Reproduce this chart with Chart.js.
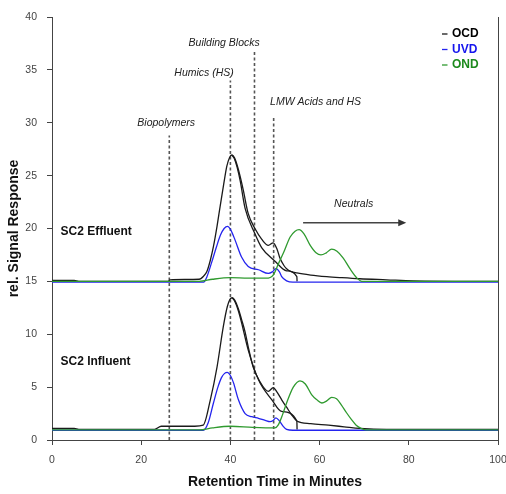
<!DOCTYPE html>
<html>
<head>
<meta charset="utf-8">
<script src="https://cdn.jsdelivr.net/npm/chart.js@4.4.1/dist/chart.umd.min.js"></script>
<style>
  html, body { margin: 0; padding: 0; background: #fff; }
  canvas { display: block; }
</style>
</head>
<body>
<canvas id="c" width="506" height="494"></canvas>
<script>
// ---- SC2 effluent (plotted with +15 offset) ----
const effOcdTime = [0, 5, 6, 26, 26.5, 33, 34, 34.7, 35.5, 36.2, 37, 37.7, 38.5, 39.2, 39.8, 40.3, 40.9, 41.5, 42.2, 42.9, 44, 45.5, 47, 48.5, 49.6, 50.5, 51.1, 52, 52.6, 53.5, 54.9, 58, 61.6, 65, 69, 75, 81, 100];
const effOcdSignal = [15.1, 15.1, 15.0, 15.0, 15.15, 15.2, 15.5, 15.9, 17.0, 18.3, 20.2, 22.1, 24.2, 25.9, 26.7, 26.95, 26.7, 26.0, 24.9, 23.6, 21.4, 20.0, 19.0, 18.4, 18.65, 18.0, 17.2, 16.5, 16.2, 15.95, 15.8, 15.6, 15.45, 15.35, 15.25, 15.15, 15.05, 15.0];

const effHumicTime = [40.3, 40.9, 41.5, 42.2, 43.3, 45.5, 47, 50, 52.6, 54.9, 54.95];
const effHumicSignal = [26.95, 26.6, 25.8, 24.5, 21.9, 19.5, 18.2, 16.9, 16.0, 15.45, 15.0];

const effUvdTime = [0, 34, 34.7, 35.8, 36.9, 37.8, 38.6, 39.35, 40.1, 41.05, 42.5, 44, 46.3, 48.5, 49.4, 50.2, 51, 51.5, 52.6, 54, 100];
const effUvdSignal = [14.92, 14.92, 15.4, 16.8, 18.3, 19.4, 20.0, 20.2, 19.85, 18.9, 17.3, 16.4, 16.1, 15.75, 15.9, 16.2, 15.9, 15.45, 15.05, 14.92, 14.92];

const effOndTime = [0, 33, 36, 40, 44, 48, 49.6, 50.8, 51.9, 53.4, 54.5, 55.4, 56.5, 57.9, 59.2, 60.3, 61.5, 62.7, 63.9, 65.3, 66.8, 68.3, 69.5, 100];
const effOndSignal = [15.0, 15.0, 15.2, 15.35, 15.3, 15.3, 15.6, 16.7, 17.7, 19.2, 19.75, 19.9, 19.5, 18.4, 17.7, 17.5, 17.7, 18.05, 17.85, 17.2, 16.2, 15.35, 15.0, 15.0];

// ---- SC2 influent ----
const infOcdTime = [0, 5, 6, 23, 24.5, 32, 33.9, 35.5, 37.0, 38.4, 39.3, 39.9, 40.4, 41, 41.8, 42.5, 43.3, 44, 45.1, 46.5, 48.5, 49.6, 50.5, 51.5, 52.6, 53.7, 54.9, 58, 62, 65.5, 69, 75, 85, 100];
const infOcdSignal = [1.1, 1.1, 1.0, 1.0, 1.3, 1.3, 1.4, 3.8, 6.9, 10.7, 12.6, 13.3, 13.45, 13.2, 12.4, 11.4, 10.2, 8.8, 6.9, 5.6, 4.6, 4.95, 4.5, 3.8, 3.1, 2.4, 1.8, 1.55, 1.4, 1.25, 1.1, 1.0, 1.0, 1.0];

const infHumicTime = [40.4, 41, 41.8, 42.5, 44, 46.3, 49.3, 51.5, 54.9, 54.95];
const infHumicSignal = [13.45, 13.1, 12.2, 11.1, 8.5, 5.7, 3.8, 2.7, 1.8, 1.0];

const infUvdTime = [0, 33.9, 35, 36.2, 37.2, 38.0, 38.7, 39.3, 40.0, 40.7, 41.8, 43.3, 44.8, 46.3, 47.8, 48.9, 49.6, 50.2, 51, 51.9, 52.6, 54, 100];
const infUvdSignal = [0.92, 0.92, 1.6, 3.5, 5.0, 5.9, 6.3, 6.4, 6.1, 5.4, 3.8, 2.5, 2.2, 2.05, 1.85, 1.73, 1.85, 2.1, 1.8, 1.26, 1.0, 0.92, 0.92];

const infOndTime = [0, 33, 36, 40, 45, 50, 50.7, 51.7, 52.6, 54.1, 55.6, 56.8, 58.2, 59.4, 60.5, 61.6, 62.7, 63.8, 64.9, 66, 67.2, 68.2, 69.3, 70.5, 100];
const infOndSignal = [0.95, 0.95, 1.15, 1.3, 1.2, 1.15, 1.4, 2.4, 3.5, 5.0, 5.6, 5.3, 4.3, 3.8, 3.5, 3.7, 4.04, 3.9, 3.3, 2.6, 1.9, 1.4, 1.1, 0.95, 0.95];

// ---- fraction boundaries ----
const regionNames = ['Biopolymers', 'Humics (HS)', 'Building Blocks', 'LMW Acids and HS'];
const regionStart = [26.3, 40.0, 45.4, 49.7];
const regionTop = [28.8, 34.0, 36.7, 30.6];

// neutrals elute from here to the end of the run
const neutralsRange = [56.3, 79.2];
const neutralsLevel = 20.55;

// ---- axes ----
const timeTicks = [0, 20, 40, 60, 80, 100];
const signalTicks = [0, 5, 10, 15, 20, 25, 30, 35, 40];

// ---- styling ----
const COL_OCD = '#1a1a1a';
const COL_UVD = '#2424ee';
const COL_OND = '#2f9a2f';
const FONT = '"Liberation Sans", Arial, sans-serif';

const pts = (t, v) => t.map((x, i) => ({ x, y: v[i] }));

function trace(label, t, v, color, order) {
  return {
    label, data: pts(t, v), borderColor: color, borderWidth: 1.3,
    pointRadius: 0, fill: false, cubicInterpolationMode: 'monotone', order
  };
}

const datasets = [
  trace('OND effluent', effOndTime, effOndSignal, COL_OND, 1),
  trace('OND influent', infOndTime, infOndSignal, COL_OND, 1),
  trace('UVD effluent', effUvdTime, effUvdSignal, COL_UVD, 2),
  trace('UVD influent', infUvdTime, infUvdSignal, COL_UVD, 2),
  trace('OCD effluent', effOcdTime, effOcdSignal, COL_OCD, 3),
  trace('OCD influent', infOcdTime, infOcdSignal, COL_OCD, 3),
  trace('HS fit effluent', effHumicTime, effHumicSignal, COL_OCD, 3),
  trace('HS fit influent', infHumicTime, infHumicSignal, COL_OCD, 3),
];

regionStart.forEach((t, i) => {
  datasets.push({
    label: regionNames[i],
    data: [{ x: t, y: 0 }, { x: t, y: regionTop[i] }],
    borderColor: '#555', borderWidth: 1.6, borderDash: [3, 2.5],
    pointRadius: 0, fill: false, tension: 0, order: 4
  });
});

// where the annotation texts sit, in data units
const regionLabelSpots = [
  { x: 25.6, y: 30.0, align: 'center' },
  { x: 34.1, y: 34.7, align: 'center' },
  { x: 38.6, y: 37.5, align: 'center' },
  { x: 48.9, y: 32.0, align: 'left' }
];
const sampleLabels = [
  { text: 'SC2 Effluent', x: 1.9, y: 19.7 },
  { text: 'SC2 Influent', x: 1.9, y: 7.4 }
];
const legendItems = [
  { text: 'OCD', color: COL_OCD, textColor: '#000' },
  { text: 'UVD', color: COL_UVD, textColor: '#1515ee' },
  { text: 'OND', color: COL_OND, textColor: '#1d8a1d' }
];

const overlay = {
  id: 'overlay',
  afterDatasetsDraw(chart) {
    const { ctx, chartArea: a, scales: { x, y } } = chart;
    ctx.save();

    // right frame
    ctx.strokeStyle = '#444';
    ctx.lineWidth = 1;
    ctx.beginPath();
    ctx.moveTo(Math.round(a.right) + 0.5, a.top);
    ctx.lineTo(Math.round(a.right) + 0.5, a.bottom);
    ctx.stroke();

    // fraction names
    ctx.font = 'italic 10.5px ' + FONT;
    ctx.fillStyle = '#222';
    ctx.textBaseline = 'middle';
    regionNames.forEach((n, i) => {
      const s = regionLabelSpots[i];
      ctx.textAlign = s.align;
      ctx.fillText(n, x.getPixelForValue(s.x), y.getPixelForValue(s.y));
    });

    // neutrals arrow
    const ax0 = x.getPixelForValue(neutralsRange[0]);
    const ax1 = x.getPixelForValue(neutralsRange[1]);
    const ay = y.getPixelForValue(neutralsLevel);
    ctx.textAlign = 'center';
    ctx.fillText('Neutrals', (ax0 + ax1) / 2 - 0.5, ay - 19);
    ctx.strokeStyle = '#444';
    ctx.lineWidth = 1.5;
    ctx.beginPath();
    ctx.moveTo(ax0, ay);
    ctx.lineTo(ax1 - 4, ay);
    ctx.stroke();
    ctx.fillStyle = '#333';
    ctx.beginPath();
    ctx.moveTo(ax1 + 1, ay);
    ctx.lineTo(ax1 - 7, ay - 3.5);
    ctx.lineTo(ax1 - 7, ay + 3.5);
    ctx.closePath();
    ctx.fill();

    // sample names
    ctx.font = 'bold 12px ' + FONT;
    ctx.fillStyle = '#111';
    ctx.textAlign = 'left';
    sampleLabels.forEach(s => ctx.fillText(s.text, x.getPixelForValue(s.x), y.getPixelForValue(s.y)));

    // detector key
    ctx.font = 'bold 12px ' + FONT;
    legendItems.forEach((it, i) => {
      const ly = a.top + 17 + i * 15.5;
      ctx.strokeStyle = it.color;
      ctx.lineWidth = 1.3;
      ctx.beginPath();
      ctx.moveTo(a.right - 56, ly);
      ctx.lineTo(a.right - 50.5, ly);
      ctx.stroke();
      ctx.fillStyle = it.textColor;
      ctx.fillText(it.text, a.right - 46, ly);
    });

    ctx.restore();
  }
};

new Chart(document.getElementById('c'), {
  type: 'line',
  data: { datasets },
  options: {
    responsive: false,
    animation: false,
    layout: { padding: { top: 17, right: 8, left: 0, bottom: 0 } },
    plugins: { legend: { display: false }, tooltip: { enabled: false } },
    scales: {
      x: {
        type: 'linear', min: 0, max: 100,
        afterFit: s => { s.height = 54; s.paddingLeft = 0; s.paddingRight = 0; },
        afterBuildTicks: s => { s.ticks = timeTicks.map(v => ({ value: v })); },
        grid: { drawOnChartArea: false, drawTicks: true, tickLength: 5, color: '#444' },
        border: { display: true, color: '#444', width: 1 },
        ticks: { color: '#444', padding: 9, maxRotation: 0, font: { family: FONT, size: 10.5 } },
        title: { display: true, text: 'Retention Time in Minutes', color: '#111', font: { family: FONT, size: 14, weight: 'bold' }, padding: { top: 0, bottom: 3 } }
      },
      y: {
        type: 'linear', min: 0, max: 40,
        afterFit: s => { s.width = 52; s.paddingTop = 0; s.paddingBottom = 0; },
        afterBuildTicks: s => { s.ticks = signalTicks.map(v => ({ value: v })); },
        grid: { drawOnChartArea: false, drawTicks: true, tickLength: 5, color: '#444' },
        border: { display: true, color: '#444', width: 1 },
        ticks: { color: '#444', padding: 10, font: { family: FONT, size: 10.5 } },
        title: { display: true, text: 'rel. Signal Response', color: '#111', font: { family: FONT, size: 14, weight: 'bold' }, padding: { top: 6, bottom: 0 } }
      }
    }
  },
  plugins: [overlay]
});
</script>
</body>
</html>
